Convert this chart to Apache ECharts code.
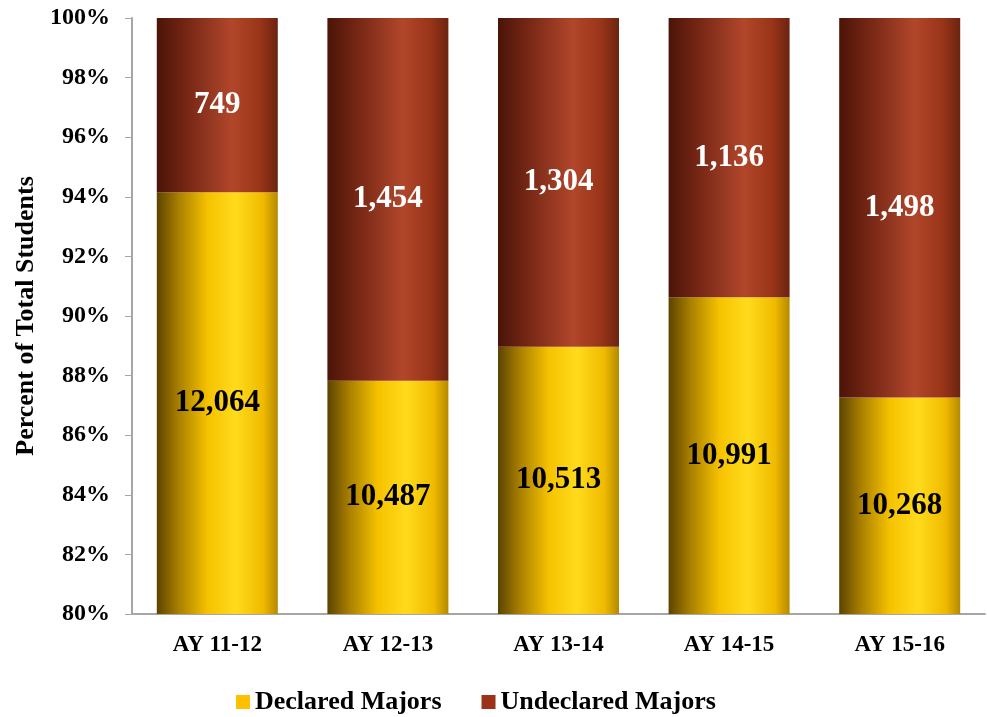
<!DOCTYPE html>
<html>
<head>
<meta charset="utf-8">
<script src="https://cdn.jsdelivr.net/npm/echarts@6/dist/echarts.min.js"></script>
<style>html,body{margin:0;padding:0;background:#fff}#c{width:987px;height:717px}</style>
</head>
<body>
<div id="c"></div>
<script>
const categories = ['AY 11-12', 'AY 12-13', 'AY 13-14', 'AY 14-15', 'AY 15-16'];
const declared = [12064, 10487, 10513, 10991, 10268];
const undeclared = [749, 1454, 1304, 1136, 1498];
const yTicks = [80, 82, 84, 86, 88, 90, 92, 94, 96, 98, 100];

const totals = declared.map((d, i) => d + undeclared[i]);
const declaredPct = declared.map((d, i) => d / totals[i] * 100);
const undeclaredPct = undeclared.map((u, i) => u / totals[i] * 100);

const FONT = '"Liberation Serif", "DejaVu Serif", serif';

const yellowGrad = new echarts.graphic.LinearGradient(0, 0, 1, 0, [
  {offset: 0, color: '#5c4400'},
  {offset: 0.18, color: '#a97f00'},
  {offset: 0.42, color: '#f6c200'},
  {offset: 0.65, color: '#ffdb1c'},
  {offset: 0.88, color: '#efba00'},
  {offset: 1, color: '#b58900'}
]);
const redGrad = new echarts.graphic.LinearGradient(0, 0, 1, 0, [
  {offset: 0, color: '#4a1407'},
  {offset: 0.2, color: '#6e2312'},
  {offset: 0.45, color: '#963822'},
  {offset: 0.62, color: '#b1462a'},
  {offset: 0.85, color: '#9a3519'},
  {offset: 1, color: '#6c2410'}
]);

const chart = echarts.init(document.getElementById('c'), null, {renderer: 'canvas'});
chart.setOption({
  animation: false,
  backgroundColor: '#ffffff',
  grid: {left: 132, right: 2, top: 18, bottom: 103, containLabel: false},
  legend: {
    top: 689,
    left: 236,
    itemWidth: 14,
    itemHeight: 14,
    itemGap: 40,
    icon: 'rect',
    padding: 0,
    textStyle: {fontFamily: FONT, fontWeight: 'bold', fontSize: 26, color: '#000'},
    data: [
      {name: 'Declared Majors', itemStyle: {color: '#ffc000'}},
      {name: 'Undeclared Majors', itemStyle: {color: '#9a3318'}}
    ]
  },
  xAxis: {
    type: 'category',
    data: categories,
    axisLine: {lineStyle: {color: '#a6a6a6', width: 2}},
    axisTick: {show: false},
    axisLabel: {fontFamily: FONT, fontWeight: 'bold', fontSize: 23, color: '#000', margin: 20}
  },
  yAxis: {
    type: 'value',
    min: 80,
    max: 100,
    interval: 2,
    name: 'Percent of Total Students',
    nameLocation: 'middle',
    nameGap: 86,
    nameTextStyle: {fontFamily: FONT, fontWeight: 'bold', fontSize: 26, color: '#000'},
    axisLine: {show: true, lineStyle: {color: '#a6a6a6', width: 2}},
    axisTick: {show: true, length: 7, lineStyle: {color: '#a6a6a6', width: 1}},
    splitLine: {show: false},
    axisLabel: {
      fontFamily: FONT, fontWeight: 'bold', fontSize: 24, color: '#000', margin: 22,
      formatter: v => yTicks.includes(v) ? v + '%' : ''
    }
  },
  series: [
    {
      name: 'Declared Majors',
      type: 'bar',
      stack: 'total',
      clip: true,
      barWidth: 121,
      data: declaredPct,
      itemStyle: {color: yellowGrad},
      label: {
        show: true, position: 'inside',
        fontFamily: FONT, fontWeight: 'bold', fontSize: 31, color: '#000',
        formatter: p => declared[p.dataIndex].toLocaleString('en-US')
      }
    },
    {
      name: 'Undeclared Majors',
      type: 'bar',
      stack: 'total',
      clip: true,
      barWidth: 121,
      data: undeclaredPct,
      itemStyle: {color: redGrad},
      label: {
        show: true, position: 'inside',
        fontFamily: FONT, fontWeight: 'bold', fontSize: 31, color: '#fff',
        formatter: p => undeclared[p.dataIndex].toLocaleString('en-US')
      }
    }
  ]
});
</script>
</body>
</html>
